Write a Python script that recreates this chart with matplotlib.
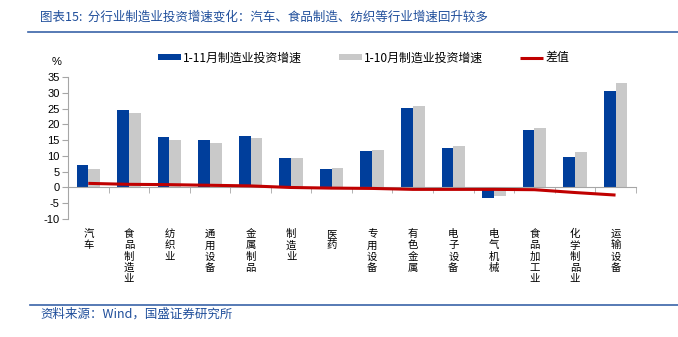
import matplotlib
matplotlib.use("Agg")
import matplotlib.pyplot as plt
import numpy as np

plt.rcParams["font.family"] = ["Noto Sans CJK SC", "DejaVu Sans"]

# Industry categories and investment growth (%)
categories = ["汽车", "食品制造业", "纺织业", "通用设备", "金属制品", "制造业", "医药",
              "专用设备", "有色金属", "电子设备", "电气机械", "食品加工业", "化学制品业", "运输设备"]
growth_jan_nov = [7.2, 24.6, 16.1, 14.9, 16.3, 9.3, 6.0, 11.7, 25.3, 12.6, -3.4, 18.2, 9.6, 30.7]
growth_jan_oct = [5.9, 23.6, 15.2, 14.2, 15.8, 9.3, 6.2, 12.0, 25.9, 13.2, -2.8, 18.9, 11.2, 33.1]
series_names = ["1-11月制造业投资增速", "1-10月制造业投资增速", "差值"]
yticks = [-10, -5, 0, 5, 10, 15, 20, 25, 30, 35]

blue = "#003E9B"
gray = "#C9C9C9"
red = "#C00000"
axis_gray = "#A6A6A6"

nov = np.array(growth_jan_nov)
oct_ = np.array(growth_jan_oct)
diff = nov - oct_
x = np.arange(len(categories))
w = 0.29

fig = plt.figure(figsize=(6.78, 3.37), dpi=100)
ax = fig.add_axes([0.1003, 0.350, 0.8375, 0.4215])

b1 = ax.bar(x - w / 2, nov, width=w, color=blue, label=series_names[0], zorder=2)
b2 = ax.bar(x + w / 2, oct_, width=w, color=gray, label=series_names[1], zorder=2)
l1, = ax.plot(x, diff, color=red, lw=2.2, label=series_names[2], zorder=3,
              solid_capstyle="butt")

ax.set_xlim(-0.5, len(categories) - 0.5)
ax.set_ylim(-10, 35)
ax.set_yticks(yticks)
ax.set_yticklabels([str(v) for v in yticks], fontsize=8, family="Liberation Sans")

for s in ["top", "right"]:
    ax.spines[s].set_visible(False)
ax.spines["left"].set_color(axis_gray)
ax.spines["bottom"].set_color(axis_gray)
ax.spines["bottom"].set_position(("data", 0))
ax.tick_params(axis="y", length=4, color=axis_gray, pad=2)

# category boundaries as minor ticks on the zero line, labels pushed below the plot
ax.set_xticks(np.arange(len(categories) + 1) - 0.5, minor=True)
ax.tick_params(axis="x", which="minor", length=4, color=axis_gray, direction="out")
ax.set_xticks(x)
ax.set_xticklabels(["\n".join(c) for c in categories], fontsize=7.5,
                   linespacing=1.15, va="top")
ax.tick_params(axis="x", which="major", length=0, pad=30)

fig.text(52 / 678, 1 - 62 / 337, "%", fontsize=8, family="Liberation Sans", va="center")

# legend entries laid out in one row
leg = fig.legend(handles=[b1, b2, l1], loc="center left", ncol=3, frameon=False,
                 bbox_to_anchor=(158 / 678, 1 - 58 / 337), fontsize=8.6,
                 handlelength=1.93, handleheight=0.45, columnspacing=3.05,
                 handletextpad=0.2, borderpad=0, borderaxespad=0)

title_color = "#1F4E9B"
fig.text(40 / 678, 1 - 17 / 337,
         "图表15:  分行业制造业投资增速变化：汽车、食品制造、纺织等行业增速回升较多",
         fontsize=9, color=title_color, va="center")
fig.add_artist(plt.Line2D([28 / 678, 1], [1 - 32 / 337] * 2, color="#3A63A8", lw=1.2))
fig.add_artist(plt.Line2D([30 / 678, 1], [1 - 305 / 337] * 2, color="#3A63A8", lw=1.2))
fig.text(40 / 678, 1 - 314 / 337, "资料来源：Wind，国盛证券研究所",
         fontsize=9, color=title_color, va="center")

fig.savefig("out.png", dpi=100)
